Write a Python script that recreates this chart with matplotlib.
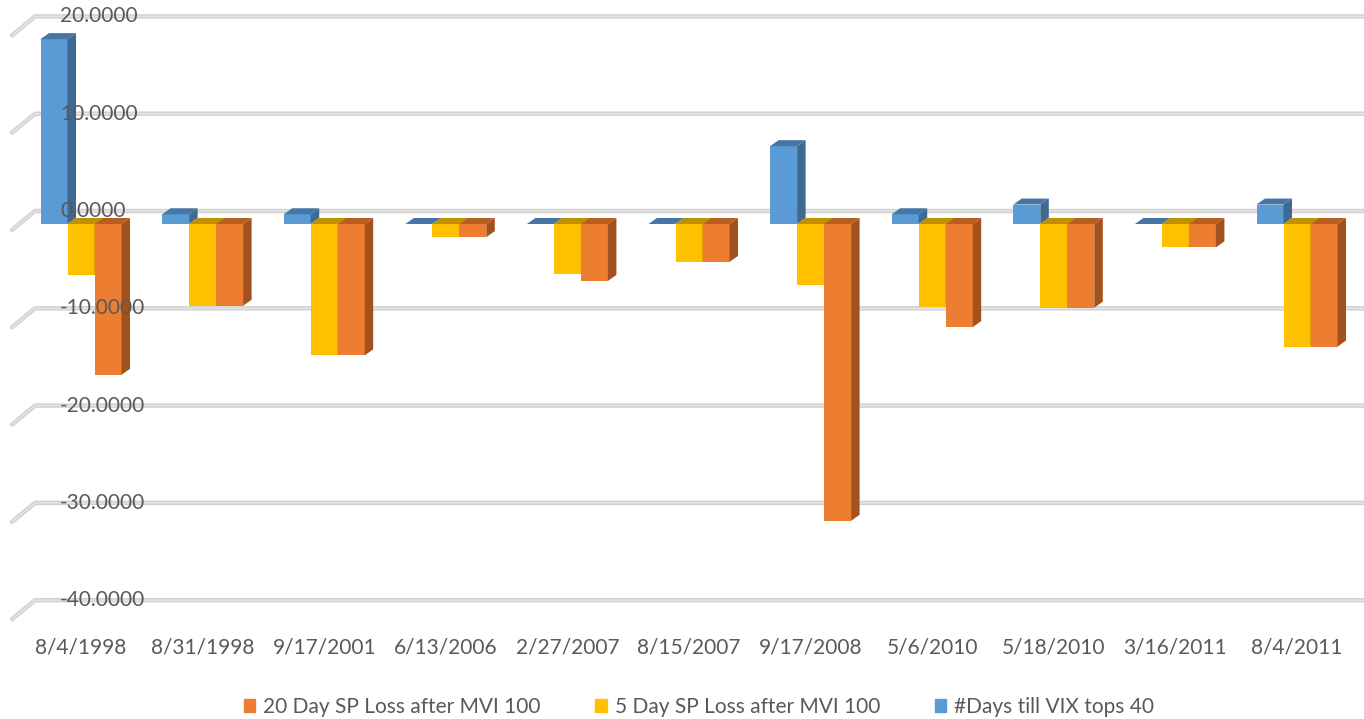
import numpy as np
import matplotlib.pyplot as plt
from matplotlib.patches import Polygon, Patch

plt.rcParams['font.family'] = ['Lato', 'DejaVu Sans']

dates = ['8/4/1998', '8/31/1998', '9/17/2001', '6/13/2006', '2/27/2007',
         '8/15/2007', '9/17/2008', '5/6/2010', '5/18/2010', '3/16/2011', '8/4/2011']
days_vix = [19, 1, 1, 0, 0, 0, 8, 1, 2, 0, 2]
loss_5d = [-5.2, -8.4, -13.5, -1.35, -5.1, -3.9, -6.3, -8.5, -8.6, -2.4, -12.6]
loss_20d = [-15.5, -8.4, -13.5, -1.35, -5.85, -3.9, -30.5, -10.6, -8.6, -2.4, -12.6]
y_ticks = [20, 10, 0, -10, -20, -30, -40]

series = [
    ('#Days till VIX tops 40', days_vix, '#5B9BD5', '#3E6A92', '#4676A5'),
    ('5 Day SP Loss after MVI 100', loss_5d, '#FFC000', '#B88A00', '#C09000'),
    ('20 Day SP Loss after MVI 100', loss_20d, '#ED7D31', '#A3511D', '#B85E20'),
]

W, H = 1364, 719
fig = plt.figure(figsize=(W / 100, H / 100), dpi=100)
ax = fig.add_axes([0, 0, 1, 1])
ax.axis('off')

# pixel layout of the fake 3d chart
x0_px, step_px = 81, 121.6
zero_px, unit_px = 224, 9.73
ax.set_xlim(-x0_px / step_px, (W - x0_px) / step_px)
ax.set_ylim((zero_px - H) / unit_px, zero_px / unit_px)

def px_x(p):
    return (p - x0_px) / step_px

dx = 8.5 / step_px
dy = 6 / unit_px
wall_dy = 13 / unit_px
w = 27 / step_px

# back wall gridlines + floor diagonals
for g in y_ticks:
    xs = [px_x(12), px_x(35), px_x(W + 5)]
    ys = [g - dy, g + wall_dy, g + wall_dy]
    ax.plot(xs, ys, color='#D2D2D2', lw=3.2, solid_capstyle='round', zorder=1)
    ax.plot(xs, ys, color='#E6E6E6', lw=1.0, zorder=1.1)
    ax.text(px_x(60), g + wall_dy, f'{g:.4f}', ha='left', va='center',
            fontsize=15, color='#595959', zorder=10)

xpos = np.arange(len(dates))
for k, (name, vals, c_front, c_side, c_top) in enumerate(series):
    z = 3 + k
    xc = xpos + (k - 1) * w
    ax.bar(xc, vals, width=w, color=c_front, zorder=z)
    for x, v in zip(xc, vals):
        left, right = x - w / 2, x + w / 2
        top, bot = max(v, 0), min(v, 0)
        side = [(right, bot), (right, top), (right + dx, top + dy), (right + dx, bot + dy)]
        cap = [(left, top), (right, top), (right + dx, top + dy), (left + dx, top + dy)]
        ax.add_patch(Polygon(side, closed=True, color=c_side, lw=0, zorder=z))
        ax.add_patch(Polygon(cap, closed=True, color=c_top, lw=0, zorder=z))

for x, d in zip(xpos, dates):
    ax.text(x, (zero_px - 648) / unit_px, d, ha='center', va='center',
            fontsize=15, color='#595959')

handles = [Patch(color=s[2]) for s in series[::-1]]
labels = [s[0] for s in series[::-1]]
fig.legend(handles, labels, loc='center', bbox_to_anchor=(699 / W, 1 - 707 / H),
           ncol=3, frameon=False, fontsize=15, handlelength=0.55, handleheight=0.55,
           handletextpad=0.4, columnspacing=2.6, labelcolor='#595959')

plt.savefig('out.png', dpi=100)
